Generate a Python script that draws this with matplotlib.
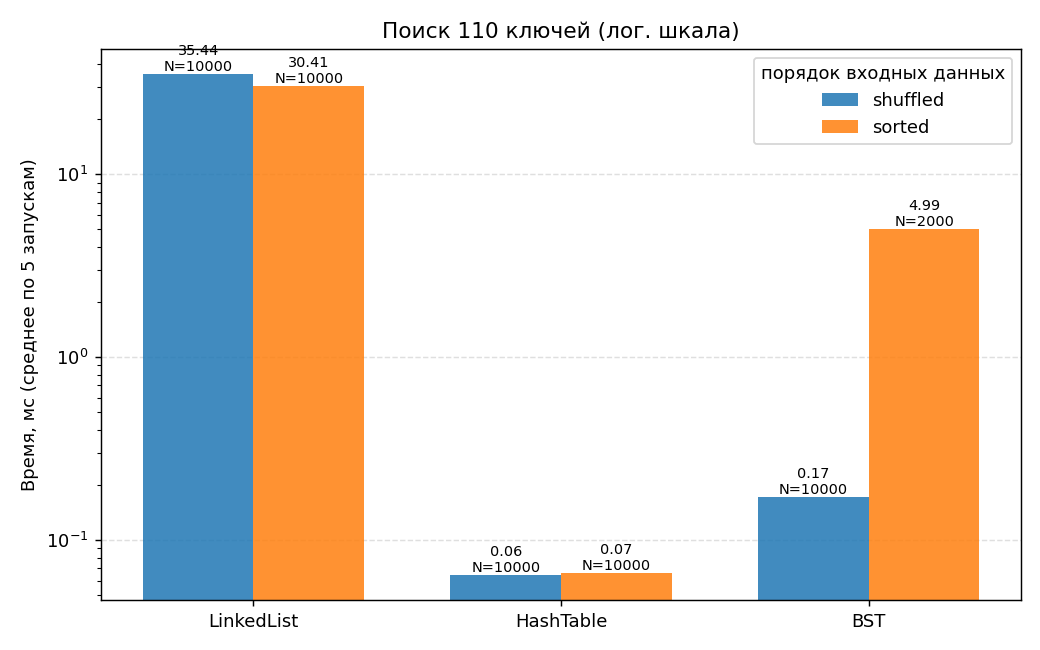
import matplotlib.pyplot as plt
import numpy as np

structures = ["LinkedList", "HashTable", "BST"]
shuffled_ms = [35.44, 0.0644, 0.172]
sorted_ms = [30.41, 0.0660, 4.99]
shuffled_n = [10000, 10000, 10000]
sorted_n = [10000, 10000, 2000]

x = np.arange(len(structures))
width = 0.36

fig, ax = plt.subplots(figsize=(8, 5), dpi=130)
b1 = ax.bar(x - width / 2, shuffled_ms, width, label="shuffled", color="#1f77b4", alpha=0.85)
b2 = ax.bar(x + width / 2, sorted_ms, width, label="sorted", color="#ff7f0e", alpha=0.85)
ax.set_yscale("log")

for bars, vals, ns in [(b1, shuffled_ms, shuffled_n), (b2, sorted_ms, sorted_n)]:
    for rect, v, n in zip(bars, vals, ns):
        ax.annotate("%.2f\nN=%d" % (v, n),
                    xy=(rect.get_x() + rect.get_width() / 2, rect.get_height()),
                    ha="center", va="bottom", fontsize=8)

ax.set_xticks(x)
ax.set_xticklabels(structures)
ax.set_ylabel("Время, мс (среднее по 5 запускам)")
ax.set_title("Поиск 110 ключей (лог. шкала)", fontsize=12)
ax.grid(axis="y", which="major", linestyle="--", alpha=0.4)
ax.set_axisbelow(True)
ax.legend(title="порядок входных данных", loc="upper right")

fig.subplots_adjust(left=0.097, right=0.982, top=0.925, bottom=0.077)
fig.savefig("out.png")
